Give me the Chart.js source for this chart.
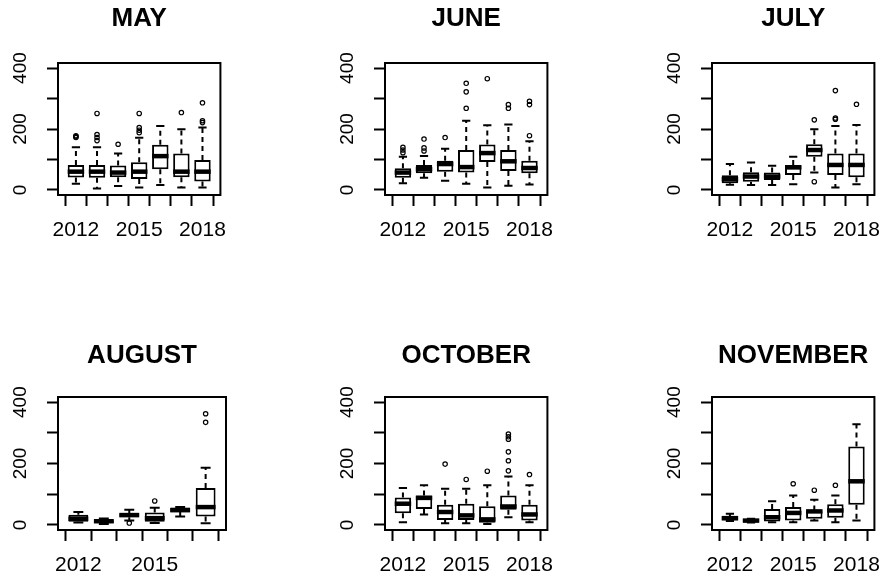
<!DOCTYPE html>
<html><head><meta charset="utf-8">
<script src="https://cdn.jsdelivr.net/npm/chart.js@4/dist/chart.umd.min.js"></script>
<style>
html,body{margin:0;padding:0;background:#fff;width:886px;height:576px;overflow:hidden;position:relative}
.p{position:absolute}
</style></head><body>
<div class="p" style="left:0px;top:0px"><canvas id="c0" width="240" height="280"></canvas></div>
<div class="p" style="left:327px;top:0px"><canvas id="c1" width="240" height="280"></canvas></div>
<div class="p" style="left:654px;top:0px"><canvas id="c2" width="240" height="280"></canvas></div>
<div class="p" style="left:0px;top:334px"><canvas id="c3" width="240" height="280"></canvas></div>
<div class="p" style="left:327px;top:334px"><canvas id="c4" width="240" height="280"></canvas></div>
<div class="p" style="left:654px;top:334px"><canvas id="c5" width="240" height="280"></canvas></div>
<script>
// ---------- data ----------
const years7 = ['2012','2013','2014','2015','2016','2017','2018'];
const years6 = ['2012','2013','2014','2015','2016','2017'];
const shown7 = ['2012','2015','2018'];
const shown6 = ['2012','2015'];
const yTickValues = [0,100,200,300,400];
const yLabelValues = [0,200,400];

// MAY
const mayLo  = [20, 5, 13, 8, 16, 8, 8];
const mayQ1  = [41, 40, 42, 36, 68, 42, 28];
const mayMed = [60, 60, 57, 60, 111, 60, 60];
const mayQ3  = [82, 82, 80, 91, 148, 120, 98];
const mayHi  = [140, 140, 120, 171, 210, 199, 205];
const mayOut = [[1,175],[1,178],[1,172],[2,251],[2,182],[2,172],[2,162],[3,150],[4,251],[4,205],[4,196],[4,188],[6,254],[7,286],[7,227],[7,221]];

// JUNE
const junLo  = [22, 40, 30, 20, 8, 14, 18];
const junQ1  = [40, 55, 60, 57, 92, 62, 55];
const junMed = [57, 68, 85, 75, 121, 94, 72];
const junQ3  = [71, 82, 96, 131, 149, 131, 96];
const junHi  = [109, 111, 135, 227, 212, 215, 160];
const junOut = [[1,140],[1,131],[1,122],[2,167],[2,138],[2,128],[3,172],[4,350],[4,322],[4,268],[5,365],[6,280],[6,268],[7,291],[7,280],[7,178]];

// JULY
const julLo  = [17, 16, 16, 19, 57, 8, 19];
const julQ1  = [22, 27, 33, 49, 109, 49, 42];
const julMed = [35, 44, 44, 74, 131, 82, 82];
const julQ3  = [48, 58, 57, 82, 150, 120, 120];
const julHi  = [85, 90, 79, 109, 199, 210, 213];
const julOut = [[5,230],[5,27],[6,326],[6,236],[6,232],[7,281]];

// AUGUST
const augLo  = [8, 3, 14, 6, 27, 5];
const augQ1  = [10, 6, 25, 10, 42, 27];
const augMed = [20, 12, 32, 22, 48, 58];
const augQ3  = [33, 18, 38, 40, 57, 120];
const augHi  = [42, 21, 49, 56, 58, 186];
const augOut = [[3,6],[4,78],[6,362],[6,334]];

// OCTOBER
const octLo  = [9, 34, 5, 5, 3, 25, 9];
const octQ1  = [38, 52, 16, 16, 7, 49, 14];
const octMed = [69, 88, 42, 31, 18, 60, 34];
const octQ3  = [89, 96, 66, 69, 61, 96, 66];
const octHi  = [120, 129, 118, 118, 129, 158, 129];
const octOut = [[3,198],[4,148],[5,175],[6,296],[6,287],[6,279],[6,238],[6,209],[6,176],[7,164]];

// NOVEMBER
const novLo  = [13, 8, 9, 9, 14, 9, 14];
const novQ1  = [14, 9, 11, 14, 20, 23, 66];
const novMed = [22, 14, 25, 39, 44, 47, 142];
const novQ3  = [28, 20, 52, 58, 47, 67, 255];
const novHi  = [36, 20, 77, 96, 82, 96, 328];
const novOut = [[4,134],[5,113],[6,129]];

const panels = [
  {title:'MAY',      years:years7, shown:shown7, lo:mayLo, q1:mayQ1, med:mayMed, q3:mayQ3, hi:mayHi, out:mayOut},
  {title:'JUNE',     years:years7, shown:shown7, lo:junLo, q1:junQ1, med:junMed, q3:junQ3, hi:junHi, out:junOut},
  {title:'JULY',     years:years7, shown:shown7, lo:julLo, q1:julQ1, med:julMed, q3:julQ3, hi:julHi, out:julOut},
  {title:'AUGUST',   years:years6, shown:shown6, lo:augLo, q1:augQ1, med:augMed, q3:augQ3, hi:augHi, out:augOut},
  {title:'OCTOBER',  years:years7, shown:shown7, lo:octLo, q1:octQ1, med:octMed, q3:octQ3, hi:octHi, out:octOut},
  {title:'NOVEMBER', years:years7, shown:shown7, lo:novLo, q1:novQ1, med:novMed, q3:novQ3, hi:novHi, out:novOut}
];

// ---------- layout (pixels, not data) ----------
const CANVAS_W = 240, CANVAS_H = 280;
const BOX_LEFT = 58;
const colRight = [226, 226, 225];
const rowGeom = [{titleMid:19, top:63, bottom:195}, {titleMid:22, top:63, bottom:196}];
const TITLE_SIZE = 26, TITLE_LH = 1.2;

function makePlugin(pn){
  return {
    id: 'rbox',
    afterDatasetsDraw(chart){
      const ctx = chart.ctx, ys = chart.scales.y, meta = chart.getDatasetMeta(0);
      ctx.save();
      ctx.strokeStyle = '#000';
      meta.data.forEach((el, i) => {
        const x = el.x, w = el.width;
        const yLo = ys.getPixelForValue(pn.lo[i]), yHi = ys.getPixelForValue(pn.hi[i]);
        const yQ1 = ys.getPixelForValue(pn.q1[i]), yQ3 = ys.getPixelForValue(pn.q3[i]);
        const yMed = ys.getPixelForValue(pn.med[i]);
        ctx.lineWidth = 2;
        ctx.setLineDash([5,4]);
        ctx.beginPath();
        ctx.moveTo(x, yQ3); ctx.lineTo(x, yHi);
        ctx.moveTo(x, yQ1); ctx.lineTo(x, yLo);
        ctx.stroke();
        ctx.setLineDash([]);
        ctx.beginPath();
        ctx.moveTo(x - w/4, yHi); ctx.lineTo(x + w/4, yHi);
        ctx.moveTo(x - w/4, yLo); ctx.lineTo(x + w/4, yLo);
        ctx.stroke();
        ctx.lineWidth = 4.5;
        ctx.beginPath();
        ctx.moveTo(x - w/2, yMed); ctx.lineTo(x + w/2, yMed);
        ctx.stroke();
      });
      const a = chart.chartArea;
      ctx.lineWidth = 2;
      ctx.strokeRect(a.left, a.top, a.right - a.left, a.bottom - a.top);
      // y tick labels, rotated like R
      ctx.fillStyle = '#000';
      ctx.font = '19px "Liberation Sans", Arial, sans-serif';
      ctx.textAlign = 'center';
      ctx.textBaseline = 'middle';
      yLabelValues.forEach(v => {
        const py = ys.getPixelForValue(v);
        ctx.save();
        ctx.translate(21, py);
        ctx.rotate(-Math.PI/2);
        ctx.fillText(String(v), 0, 0);
        ctx.restore();
      });
      ctx.restore();
    }
  };
}

panels.forEach((pn, k) => {
  const col = k % 3, row = Math.floor(k / 3);
  const rg = rowGeom[row];
  const n = pn.years.length;
  const pad = n === 7 ? 0.85 : 0.8;
  const lh = TITLE_SIZE * TITLE_LH;
  const tTop = rg.titleMid - lh/2;
  const tBottom = rg.top - tTop - lh;
  const boxData = pn.q1.map((v, i) => ({x: i + 1, y: [v, pn.q3[i]]}));
  const outData = pn.out.map(o => ({x: o[0], y: o[1]}));
  new Chart(document.getElementById('c' + k), {
    type: 'bar',
    data: {
      datasets: [
        {type:'bar', data: boxData, backgroundColor:'#fff', borderColor:'#000', borderWidth:2, borderSkipped:false,
         barPercentage:0.78, categoryPercentage:1.0},
        {type:'scatter', data: outData, pointStyle:'circle', pointRadius:2.2, pointBorderWidth:1.2,
         pointBorderColor:'#000', pointBackgroundColor:'rgba(0,0,0,0)', showLine:false}
      ]
    },
    options: {
      responsive:false, animation:false, events:[],
      layout:{padding:{left:0, right: CANVAS_W - colRight[col], top:0, bottom:0}},
      plugins:{
        legend:{display:false}, tooltip:{enabled:false},
        title:{display:true, text: pn.title, fullSize:false, color:'#000',
          font:{family:'"Liberation Sans", Arial, sans-serif', size:TITLE_SIZE, weight:'bold', lineHeight:TITLE_LH},
          padding:{top:tTop, bottom:tBottom}}
      },
      scales:{
        x:{type:'linear', min: 1 - pad, max: n + pad, offset:false,
          afterBuildTicks: s => { s.ticks = pn.years.map((_, i) => ({value: i + 1})); },
          afterFit: s => { s.height = CANVAS_H - rg.bottom; },
          grid:{drawOnChartArea:false, drawTicks:true, tickLength:11, tickWidth:2, tickColor:'#000'},
          border:{display:false},
          ticks:{autoSkip:false, maxRotation:0, minRotation:0, padding:12, color:'#000',
            font:{family:'"Liberation Sans", Arial, sans-serif', size:21},
            callback: v => { const lab = pn.years[v - 1]; return pn.shown.includes(lab) ? lab : ''; }}
        },
        y:{type:'linear', min:-16.6, max:416.6,
          afterBuildTicks: s => { s.ticks = yTickValues.map(v => ({value: v})); },
          afterFit: s => { s.width = BOX_LEFT; },
          grid:{drawOnChartArea:false, drawTicks:true, tickLength:11, tickWidth:2, tickColor:'#000'},
          border:{display:false},
          ticks:{display:false}
        }
      }
    },
    plugins:[makePlugin(pn)]
  });
});
</script>
</body></html>
